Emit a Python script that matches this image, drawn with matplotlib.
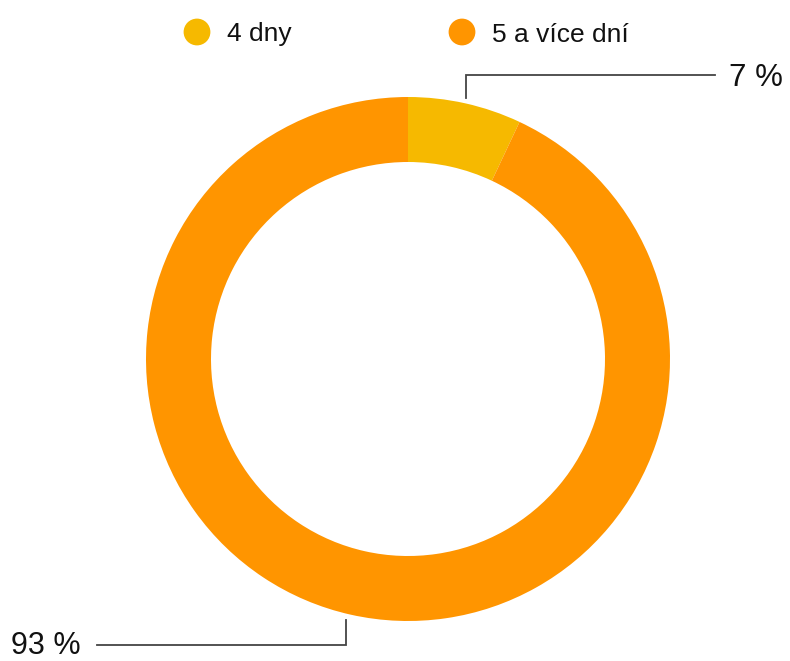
import numpy as np
import matplotlib.pyplot as plt

plt.rcParams['font.family'] = ['Liberation Sans', 'DejaVu Sans']

labels = ['4 dny', '5 a více dní']
values = [7, 93]
colors = ['#F6B900', '#FF9500']
value_labels = ['7 %', '93 %']

W, H = 790, 661
fig = plt.figure(figsize=(W / 100, H / 100), dpi=100)
ax = fig.add_axes([0, 0, 1, 1])
ax.set_xlim(0, W)
ax.set_ylim(0, H)
ax.set_aspect('equal')
ax.axis('off')

cx, cy = 408, H - 359
r_out, ring = 262, 65

wedges, _ = ax.pie(values, colors=colors, startangle=90, counterclock=False,
                   radius=r_out, center=(cx, cy),
                   wedgeprops=dict(width=ring, edgecolor='none'))
ax.set_xlim(0, W)
ax.set_ylim(0, H)

# leader lines + percentage labels
line_color = '#444444'
for w, txt in zip(wedges, value_labels):
    mid = np.deg2rad((w.theta1 + w.theta2) / 2)
    x0 = cx + (r_out + 5) * np.cos(mid)
    y0 = cy + (r_out + 5) * np.sin(mid)
    if np.cos(mid) >= 0:
        yl = H - 75
        ax.plot([x0, x0, 715], [y0, yl, yl], color=line_color, lw=1.3,
                solid_joinstyle='miter')
        ax.text(729, yl, txt, fontsize=22.5, ha='left', va='center_baseline',
                color='#111111')
    else:
        yl = H - 645
        ax.plot([x0 - 4, x0 - 4, 97], [y0, yl, yl], color=line_color, lw=1.3,
                solid_joinstyle='miter')
        ax.text(81, yl + 3, txt, fontsize=22, ha='right', va='center_baseline',
                color='#111111')

# legend
leg_x = [197, 462]
for lx, lab, col in zip(leg_x, labels, colors):
    ax.scatter([lx], [H - 32], s=26 ** 2 * 0.55, color=col, edgecolor='none')
    ax.text(lx + 30, H - 32, lab, fontsize=19, ha='left',
            va='center_baseline', color='#111111')

fig.savefig('out.png', dpi=100, facecolor='white')
